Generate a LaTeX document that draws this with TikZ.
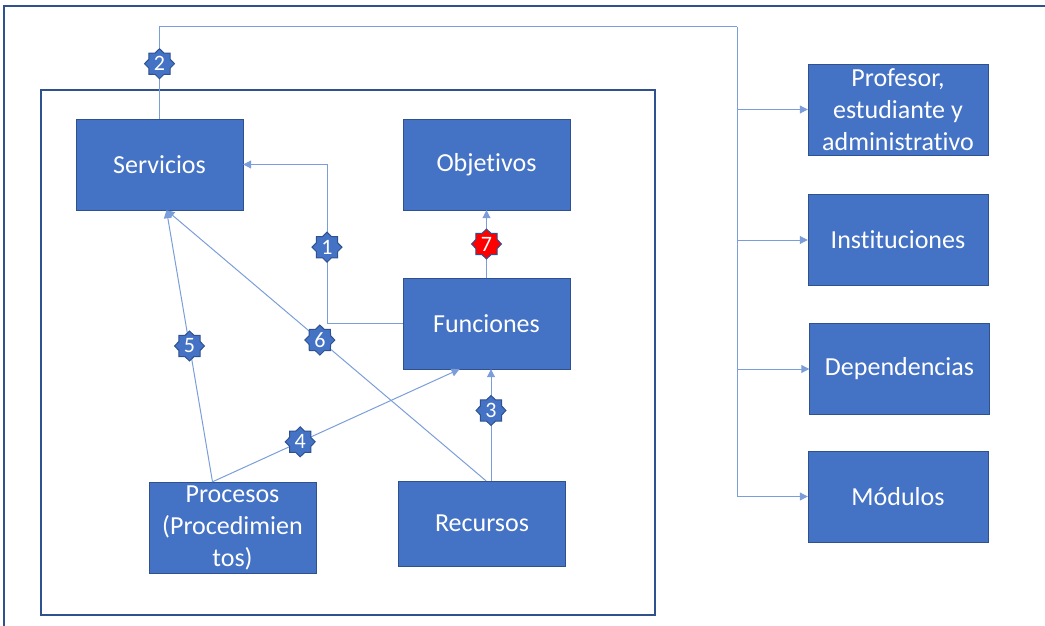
\documentclass[tikz,border=0pt]{standalone}
\usepackage{fontspec}
\setmainfont[Ligatures=NoCommon]{Carlito}
\usepackage{xcolor}
\usetikzlibrary{arrows.meta,shapes.geometric}
\definecolor{boxblue}{HTML}{4472C4}
\definecolor{edgeblue}{HTML}{2F528F}
\definecolor{lineblue}{HTML}{7B9EDA}

\begin{document}
\begin{tikzpicture}[x=1pt, y=-1pt,
    box/.style = {draw=edgeblue, fill=boxblue, text=white, align=center,
        minimum width=167pt, minimum height=91pt, inner sep=2pt,
        font=\fontsize{26}{32}\selectfont},
    sidebox/.style = {box, minimum width=180pt},
    numstar/.style = {star, star points=8, star point ratio=1.3, draw=edgeblue,
        fill=boxblue, text=white, inner sep=0pt, minimum size=30pt,
        font=\fontsize{22}{22}\selectfont},
    redstar/.style = {numstar, fill=red},
    link/.style = {draw=lineblue, line width=1pt},
    arr/.style = {link, -{Triangle[length=8pt,width=8pt]}}]
          \useasboundingbox (0,0) rectangle (1045,626);
          \draw[edgeblue, line width=2pt] (4,626) -- (4,6) -- (1045,6);
          \draw[edgeblue, line width=1.3pt] (41,90) rectangle (655,615);

          % inner boxes
          \node[box] (serv) at (159.5,164.5) {Servicios};
          \node[box] (obj) at (486.5,164.5) {Objetivos};
          \node[box] (func) at (486.5,323.5) {Funciones};
          \node[box] (proc) at (232.5,527.5) {Procesos\\(Procedimien\\tos)};
          \node[box, minimum height=85pt] (rec) at (482,523.5) {Recursos};

          % right column
          \node[sidebox] (prof) at (898,109.5) {Profesor,\\estudiante y\\administrativo};
          \node[sidebox] (inst) at (898,240) {Instituciones};
          \node[sidebox] (dep) at (899.5,369) {Dependencias};
          \node[sidebox] (mod) at (898,496.5) {Módulos};

          \coordinate (bus) at (737,27);
          \coordinate (k1) at (327,164.5);

          \draw[link] (serv.north) -- node[numstar, pos=0.6] {2} (serv.north |- bus) -- (bus);
          \draw[arr] (bus) |- (mod.west);
          \draw[arr] (bus |- prof.west) -- (prof.west);
          \draw[arr] (bus |- inst.west) -- (inst.west);
          \draw[arr] (bus |- dep.west) -- (dep.west);

          \draw[arr] (func.west) -| node[numstar, pos=0.74] {1} (k1) -- (serv.east);
          \draw[arr] (func.north) -- node[redstar] {7} (obj.south);
          \draw[arr] ([xshift=9pt]rec.north) -- node[numstar, pos=0.63] {3} ([xshift=4.5pt]func.south);
          \draw[arr] ([xshift=-20pt]proc.north) -- node[numstar, pos=0.355] {4} ([xshift=-27pt]func.south);
          \draw[arr] ([xshift=-20pt]proc.north) -- node[numstar, pos=0.5] {5} ([xshift=7pt]serv.south);
          \draw[arr] ([xshift=4pt]rec.north) -- node[numstar, pos=0.52] {6} ([xshift=7pt]serv.south);
        \end{tikzpicture}
\end{document}
